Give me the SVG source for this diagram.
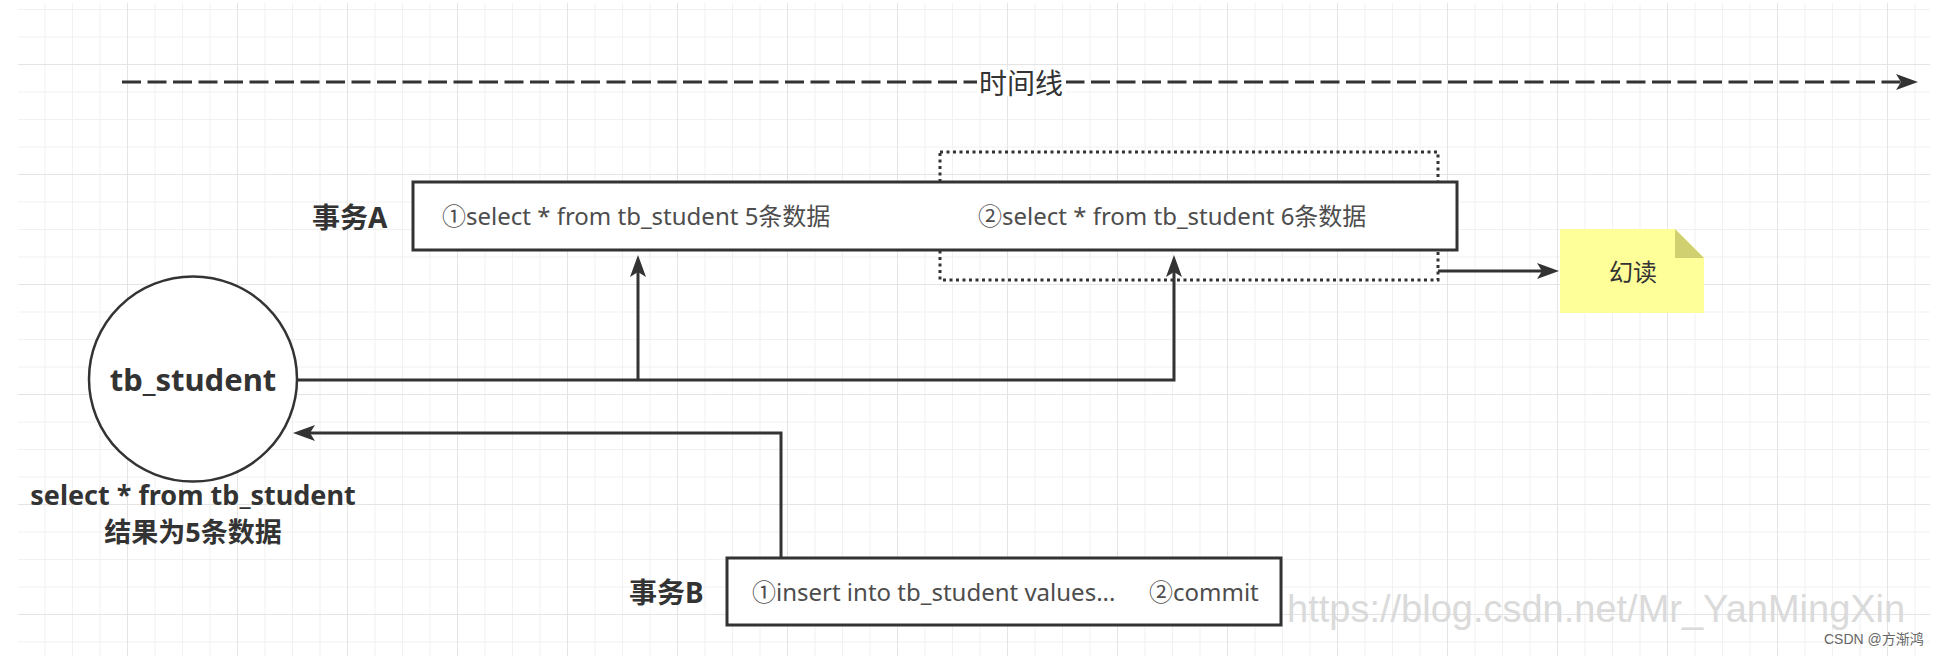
<svg xmlns="http://www.w3.org/2000/svg" width="1940" height="656" viewBox="0 0 1940 656">
<style>
.lbl{font-family:'Noto Sans','Noto Sans CJK SC',sans-serif;font-weight:700;fill:#333}
.txt{font-family:'Noto Sans','Noto Sans CJK SC',sans-serif;font-size:24px;fill:#4d4d4d}
.box{fill:#fff;stroke:#333;stroke-width:3}
.conn{fill:none;stroke:#333;stroke-width:3}
</style>
<defs>
<pattern id="gMinor" patternUnits="userSpaceOnUse" x="17" y="9" width="27.5" height="27.5">
<path d="M0 0H27.5M0 0V27.5" fill="none" stroke="#f1f1f1" stroke-width="2"/>
</pattern>
<pattern id="gMajor" patternUnits="userSpaceOnUse" x="17" y="64" width="110" height="110">
<path d="M0 0H110M0 0V110" fill="none" stroke="#e4e4e4" stroke-width="2"/>
</pattern>
<marker id="arr" viewBox="0 0 22 16" refX="5" refY="8" markerWidth="22" markerHeight="16" markerUnits="userSpaceOnUse" orient="auto">
<path d="M0,0 L22,8 L0,16 L5,8 Z" fill="#333"/>
</marker>
</defs>
<rect width="1940" height="656" fill="#fff"/>
<g id="grid">
<rect x="18" y="3" width="1912" height="653" fill="url(#gMinor)"/>
<rect x="18" y="3" width="1912" height="653" fill="url(#gMajor)"/>
</g>
<g id="timeline">
<path class="conn" d="M122,82 H1901" stroke-dasharray="19 6.5" marker-end="url(#arr)"/>
<rect x="977" y="70" width="89" height="26" fill="#fff"/>
<text x="1021" y="94" text-anchor="middle" style="font-family:'Noto Sans CJK SC',sans-serif;font-size:28px;fill:#333">时间线</text>
</g>
<g id="phantom-window">
<rect x="940" y="152" width="498" height="128" fill="none" stroke="#333" stroke-width="3" stroke-dasharray="3 3.5"/>
</g>
<g id="connectors">
<path class="conn" d="M297,380 H1174 V272" marker-end="url(#arr)"/>
<path class="conn" d="M638,380 V272" marker-end="url(#arr)"/>
<path class="conn" d="M781,558 V433 H310" marker-end="url(#arr)"/>
<path class="conn" d="M1438,271 H1542" marker-end="url(#arr)"/>
</g>
<g id="txA">
<text class="lbl" x="312" y="228" font-size="28">事务A</text>
<rect class="box" x="413" y="182" width="1044" height="68"/>
<text class="txt" x="442" y="225">①select * from tb_student 5条数据</text>
<text class="txt" x="978" y="225">②select * from tb_student 6条数据</text>
</g>
<g id="note">
<path d="M1560,229 H1675 L1704,258 V313 H1560 Z" fill="#ffff99"/>
<path d="M1675,229 L1704,258 H1675 Z" fill="#d0d070"/>
<text x="1633" y="281" text-anchor="middle" style="font-family:'Noto Sans CJK SC',sans-serif;font-size:24px;fill:#333">幻读</text>
</g>
<g id="table">
<ellipse cx="193" cy="379" rx="104" ry="102.5" fill="#fff" stroke="#333" stroke-width="2.5"/>
<text class="lbl" x="193" y="391" font-size="31" text-anchor="middle">tb_student</text>
<text class="lbl" x="193" y="505" font-size="27" text-anchor="middle">select * from tb_student</text>
<text class="lbl" x="193" y="542" font-size="27" text-anchor="middle">结果为5条数据</text>
</g>
<g id="txB">
<text class="lbl" x="629" y="603" font-size="28">事务B</text>
<rect class="box" x="727" y="558" width="554" height="67"/>
<text class="txt" x="752" y="601">①insert into tb_student values...</text>
<text class="txt" x="1149" y="601">②commit</text>
</g>
<g id="watermark">
<text x="1287" y="622" style="font-family:'Liberation Sans',Arial,sans-serif;font-size:38px;fill:#dadada">https://blog.csdn.net/Mr_YanMingXin</text>
<text x="1824" y="644" style="font-family:'Liberation Sans','Noto Sans CJK SC',sans-serif;font-size:14px;fill:#666">CSDN @方渐鸿</text>
</g>
</svg>
